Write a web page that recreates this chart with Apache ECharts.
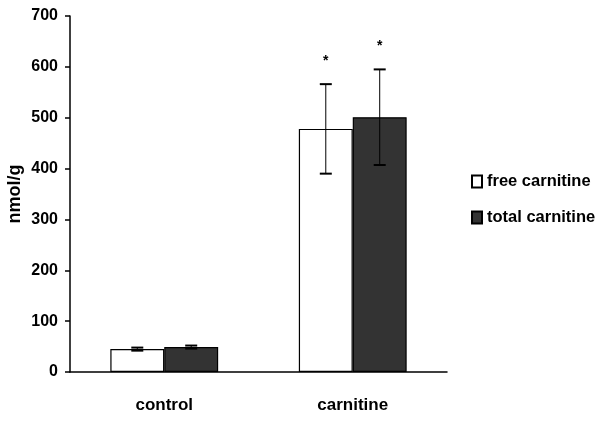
<!DOCTYPE html>
<html><head><meta charset="utf-8">
<script src="https://cdn.jsdelivr.net/npm/echarts@6/dist/echarts.min.js"></script>
<style>html,body{margin:0;padding:0;background:#fff}#c{width:600px;height:423px}</style>
</head><body><div id="c"></div>
<script>
var categories = ['control', 'carnitine'];
var yTicks = [0, 100, 200, 300, 400, 500, 600, 700];
var freeValues = [45, 478];
var freeErr = [3, 88];
var totalValues = [49, 501];
var totalErr = [3, 94];
var freeMark = ['', '*'];
var totalMark = ['', '*'];

var FONT = '"Liberation Sans", Arial, sans-serif';
var BAR_FRAC = 0.286;

function errSeries(name, values, errs, marks, side) {
  var data = values.map(function (v, i) { return [i, v, errs[i], marks[i]]; });
  return {
    type: 'custom', name: name + ' err', silent: true, z: 5,
    data: data,
    renderItem: function (params, api) {
      var i = api.value(0), v = api.value(1), e = api.value(2);
      var mark = data[params.dataIndex][3];
      var band = api.size([1, 0])[0];
      var off = side * band * BAR_FRAC / 2;
      var top = api.coord([i, v + e]);
      var bot = api.coord([i, v - e]);
      var x = top[0] + off;
      var cap = 6;
      var children = [
        { type: 'line', shape: { x1: x, y1: top[1], x2: x, y2: bot[1] }, style: { stroke: '#000', lineWidth: 1 } },
        { type: 'line', shape: { x1: x - cap, y1: top[1], x2: x + cap, y2: top[1] }, style: { stroke: '#000', lineWidth: 2 } },
        { type: 'line', shape: { x1: x - cap, y1: bot[1], x2: x + cap, y2: bot[1] }, style: { stroke: '#000', lineWidth: 2 } }
      ];
      if (mark) {
        children.push({ type: 'text', style: { text: mark, x: x, y: top[1] - 23, align: 'center', verticalAlign: 'middle', font: 'bold 14px ' + FONT, fill: '#000' } });
      }
      return { type: 'group', children: children };
    }
  };
}

var chart = echarts.init(document.getElementById('c'));
chart.setOption({
  animation: false,
  backgroundColor: '#fff',
  grid: { left: 70, right: 153, top: 16, bottom: 51, containLabel: false, outerBoundsMode: 'none' },
  legend: {
    orient: 'vertical', left: 466, top: 168, itemGap: 19,
    itemWidth: 10, itemHeight: 12, icon: 'rect',
    textStyle: { fontFamily: FONT, fontWeight: 'bold', fontSize: 16.5, color: '#000' },
    data: ['free carnitine', 'total carnitine']
  },
  xAxis: {
    type: 'category', data: categories,
    axisLine: { lineStyle: { color: '#000', width: 1.5 } },
    axisTick: { show: false },
    axisLabel: { margin: 25, fontFamily: FONT, fontWeight: 'bold', fontSize: 17, color: '#000' }
  },
  yAxis: {
    type: 'value', min: 0, max: 700, interval: 100,
    name: 'nmol/g', nameLocation: 'middle', nameGap: 46, nameRotate: 90, nameMoveOverlap: false,
    nameTextStyle: { fontFamily: FONT, fontWeight: 'bold', fontSize: 18, color: '#000' },
    splitLine: { show: false },
    axisLine: { show: true, lineStyle: { color: '#000', width: 1.5 } },
    axisTick: { show: true, length: 5, lineStyle: { color: '#000', width: 1.5 } },
    axisLabel: { margin: 12, fontFamily: FONT, fontWeight: 'bold', fontSize: 16, color: '#000',
      formatter: function (v) { return yTicks.indexOf(v) >= 0 ? String(v) : ''; } }
  },
  series: [
    { name: 'free carnitine', type: 'bar', data: freeValues, barWidth: (BAR_FRAC * 100) + '%', barGap: '0%',
      itemStyle: { color: '#fff', borderColor: '#000', borderWidth: 1.2 } },
    { name: 'total carnitine', type: 'bar', data: totalValues, barWidth: (BAR_FRAC * 100) + '%', barGap: '0%',
      itemStyle: { color: '#333333', borderColor: '#000', borderWidth: 1.2 } },
    errSeries('free carnitine', freeValues, freeErr, freeMark, -1),
    errSeries('total carnitine', totalValues, totalErr, totalMark, 1)
  ]
});
</script></body></html>
